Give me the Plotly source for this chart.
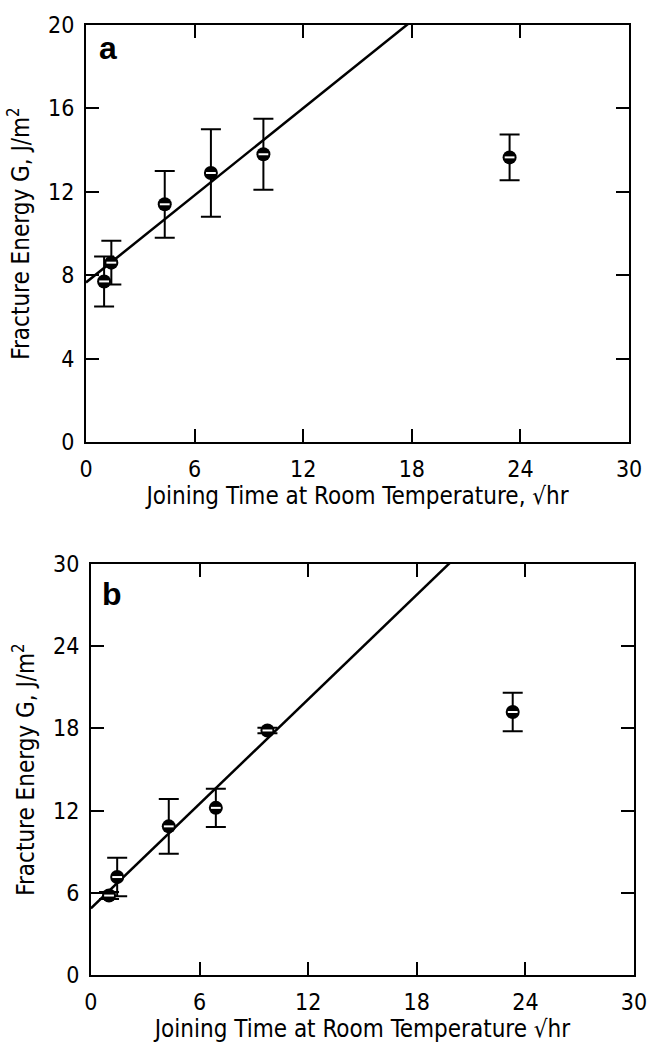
import plotly.graph_objects as go

# ---- data ----
x_ticks = [0, 6, 12, 18, 24, 30]
y_ticks_a = [0, 4, 8, 12, 16, 20]
y_ticks_b = [0, 6, 12, 18, 24, 30]

time_a = [1.0, 1.4, 4.35, 6.9, 9.8, 23.4]
energy_a = [7.7, 8.6, 11.4, 12.9, 13.8, 13.65]
err_a = [1.2, 1.05, 1.6, 2.1, 1.7, 1.1]

time_b = [1.0, 1.45, 4.3, 6.9, 9.75, 23.3]
energy_b = [5.8, 7.15, 10.85, 12.2, 17.85, 19.2]
err_b = [0.25, 1.4, 2.0, 1.4, 0.2, 1.4]

fit_a = [7.65, 0.697]   # intercept, slope
fit_b = [4.86, 1.272]
fit_x = [0, 30]

FONT = "DejaVu Sans Condensed, Liberation Sans Narrow, DejaVu Sans, sans-serif"

fig = go.Figure()

def add_panel(xs, ys, errs, fit, xa, ya):
    fig.add_trace(go.Scatter(
        x=fit_x, y=[fit[0] + fit[1] * v for v in fit_x],
        mode="lines", line=dict(color="black", width=2.5),
        xaxis=xa, yaxis=ya, showlegend=False, hoverinfo="skip"))
    fig.add_trace(go.Scatter(
        x=xs, y=ys, mode="markers",
        marker=dict(symbol="circle", size=14, color="black"),
        error_y=dict(type="data", array=errs, visible=True,
                     color="black", thickness=2, width=10),
        xaxis=xa, yaxis=ya, showlegend=False))
    fig.add_trace(go.Scatter(
        x=xs, y=ys, mode="markers",
        marker=dict(symbol="line-ew", size=7,
                    line=dict(color="white", width=2)),
        xaxis=xa, yaxis=ya, showlegend=False, hoverinfo="skip"))

add_panel(time_a, energy_a, err_a, fit_a, "x", "y")
add_panel(time_b, energy_b, err_b, fit_b, "x2", "y2")

axis_common = dict(
    showgrid=False, zeroline=False, showline=True, linecolor="black",
    linewidth=2, mirror="ticks", ticks="inside", ticklen=13, tickwidth=2,
    tickcolor="black", tickfont=dict(family=FONT, size=23, color="black"),
)
title_font = dict(family=FONT, size=24, color="black")
xextra = dict(ticklabelstandoff=5)
yextra = dict(ticklabelstandoff=5)

fig.update_layout(
    width=659, height=1045,
    margin=dict(l=86, r=13, t=20, b=68),
    paper_bgcolor="white", plot_bgcolor="white",
    xaxis=dict(axis_common, **xextra, domain=[0, 0.991], range=[0, 30],
               tickvals=x_ticks, anchor="y",
               title=dict(text="Joining Time at Room Temperature, √hr",
                          font=title_font, standoff=0)),
    yaxis=dict(axis_common, **yextra, domain=[0.5611, 1.0], range=[0, 20],
               tickvals=y_ticks_a, anchor="x",
               title=dict(text="Fracture Energy G, J/m<sup>2</sup>",
                          font=title_font, standoff=12)),
    xaxis2=dict(axis_common, **xextra, domain=[0.009, 1.0], range=[0, 30],
                tickvals=x_ticks, anchor="y2",
                title=dict(text="Joining Time at Room Temperature √hr",
                           font=title_font, standoff=2)),
    yaxis2=dict(axis_common, **yextra, domain=[0, 0.4326], range=[0, 30],
                tickvals=y_ticks_b, anchor="x2",
                title=dict(text="Fracture Energy G, J/m<sup>2</sup>",
                           font=title_font, standoff=12)),
    annotations=[
        dict(text="<b>a</b>", x=0.04, y=0.945, xref="x domain", yref="y domain",
             xanchor="center", yanchor="middle", showarrow=False,
             font=dict(family="Liberation Sans, Arial, sans-serif",
                       size=32, color="black")),
        dict(text="<b>b</b>", x=0.038, y=0.928, xref="x2 domain", yref="y2 domain",
             xanchor="center", yanchor="middle", showarrow=False,
             font=dict(family="Liberation Sans, Arial, sans-serif",
                       size=32, color="black")),
    ],
)

fig.write_html("out.html")
